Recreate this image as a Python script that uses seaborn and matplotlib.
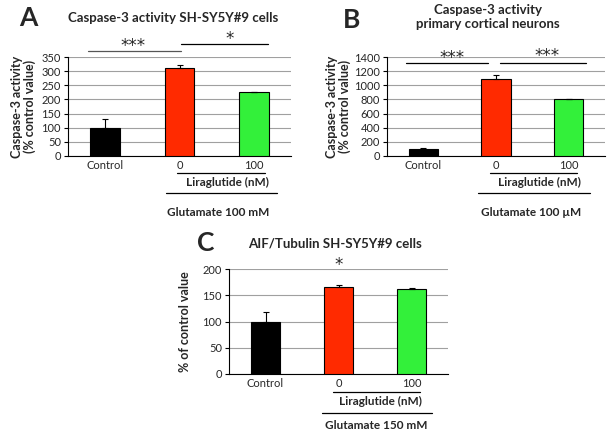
import pandas as pd
import seaborn as sns
import matplotlib.pyplot as plt
import matplotlib.transforms as mtransforms

# values
categories = ["Control", "0", "100"]
caspase_sh = [100, 310, 228]
caspase_sh_err = [32, 12, 0]
caspase_cort = [100, 1090, 800]
caspase_cort_err = [8, 55, 10]
aif_tub = [100, 166, 161]
aif_tub_err = [19, 3, 2]

bar_colors = ["#000000", "#FF2A00", "#33F03A"]

sns.set_theme(style="white")
plt.rcParams['font.family'] = ['Lato', 'DejaVu Sans']

fig = plt.figure(figsize=(6.1, 4.33), dpi=100)
W, H = 610, 433


def make_axes(left, right, top, bottom):
    return fig.add_axes([left / W, 1 - bottom / H, (right - left) / W, (bottom - top) / H])


def draw_panel(ax, values, errs, ymax, ystep, ylabel, labelpad):
    df = pd.DataFrame({"group": categories, "value": values})
    sns.barplot(data=df, x="group", y="value", hue="group", palette=bar_colors,
                order=categories, width=0.4, edgecolor="black", linewidth=0.8,
                saturation=1, errorbar=None, legend=False, ax=ax, zorder=3)
    ax.errorbar(range(len(values)), values, yerr=[[0] * len(errs), errs], fmt="none",
                ecolor="black", elinewidth=0.8, capsize=2.5, capthick=0.8, zorder=4)
    ax.set_xlim(-0.5, 2.5)
    ax.set_ylim(0, ymax)
    ax.set_yticks(range(0, ymax + 1, ystep))
    ax.yaxis.grid(True, color="#a0a0a0", linewidth=0.8, zorder=0)
    ax.set_axisbelow(True)
    for s in ["top", "right"]:
        ax.spines[s].set_visible(False)
    for s in ["left", "bottom"]:
        ax.spines[s].set_color("black")
        ax.spines[s].set_linewidth(0.8)
    ax.set_xticks([-0.5, 0.5, 1.5, 2.5], minor=True)
    ax.tick_params(axis="x", which="major", length=0, labelsize=8, pad=3)
    ax.tick_params(axis="x", which="minor", length=3, width=0.8, color="black", direction="out")
    ax.tick_params(axis="y", length=3, width=0.8, color="black", direction="out",
                   labelsize=8, left=True, pad=2)
    ax.set_xlabel("")
    ax.set_ylabel(ylabel, fontsize=9, fontweight="bold", labelpad=labelpad, linespacing=1.05)


def under_axis(ax, l1, l2, lira_x, glu_x, glu_label, line_y=(-0.17, -0.37), lira_y=-0.27, glu_y=-0.57):
    tr = mtransforms.blended_transform_factory(ax.transData, ax.transAxes)
    ax.plot(l1, [line_y[0]] * 2, color="black", lw=0.9, transform=tr, clip_on=False)
    ax.plot(l2, [line_y[1]] * 2, color="black", lw=0.9, transform=tr, clip_on=False)
    ax.text(lira_x, lira_y, "Liraglutide (nM)", transform=tr, ha="center", va="center",
            fontsize=8.5, fontweight="bold")
    ax.text(glu_x, glu_y, glu_label, transform=tr, ha="center", va="center",
            fontsize=8.5, fontweight="bold")


def sig(ax, x0, x1, y, color="black"):
    ax.plot([x0, x1], [y, y], color=color, lw=0.9, clip_on=False, zorder=5)


def stars(ax, x, y, s):
    ax.text(x, y, s, ha="center", va="center", fontsize=12, family="DejaVu Sans")


# Panel A
axA = make_axes(68, 291, 57, 156)
draw_panel(axA, caspase_sh, caspase_sh_err, 350, 50,
           "Caspase-3 activity\n(% control value)", 4)
sig(axA, -0.23, 1.02, 371, color="#555555")
sig(axA, 1.02, 2.19, 396)
stars(axA, 0.38, 390, "***")
stars(axA, 1.68, 414, "*")
under_axis(axA, [0.97, 2.15], [0.82, 2.31], 1.64, 1.52, "Glutamate 100 mM")

# Panel B
axB = make_axes(387, 605, 57, 156)
draw_panel(axB, caspase_cort, caspase_cort_err, 1400, 200,
           "Caspase-3 activity\n(% control value)", 2)
sig(axB, -0.24, 0.89, 1315)
sig(axB, 1.05, 2.24, 1315)
stars(axB, 0.40, 1390, "***")
stars(axB, 1.70, 1420, "***")
under_axis(axB, [0.92, 2.11], [0.75, 2.29], 1.6, 1.49, "Glutamate 100 µM")

# Panel C
axC = make_axes(229, 448, 269, 374)
draw_panel(axC, aif_tub, aif_tub_err, 200, 50, "% of control value", 8)
stars(axC, 1.0, 208, "*")
under_axis(axC, [0.92, 2.12], [0.77, 2.28], 1.57, 1.52, "Glutamate 150 mM",
           line_y=(-0.17, -0.37), lira_y=-0.26, glu_y=-0.49)

# titles and panel letters
fig.text(173 / W, 1 - 18 / H, "Caspase-3 activity SH-SY5Y#9 cells", ha="center", va="center",
         fontsize=9.5, fontweight="bold")
fig.text(488 / W, 1 - 17 / H, "Caspase-3 activity\nprimary cortical neurons", ha="center",
         va="center", fontsize=9.5, fontweight="bold", linespacing=1.3)
fig.text(335 / W, 1 - 243 / H, "AIF/Tubulin SH-SY5Y#9 cells", ha="center", va="center",
         fontsize=9.5, fontweight="bold")
fig.text(28 / W, 1 - 18 / H, "A", ha="center", va="center", fontsize=19, fontweight="bold")
fig.text(352 / W, 1 - 20 / H, "B", ha="center", va="center", fontsize=19, fontweight="bold")
fig.text(206 / W, 1 - 243 / H, "C", ha="center", va="center", fontsize=19, fontweight="bold")

fig.savefig("out.png", dpi=100)
